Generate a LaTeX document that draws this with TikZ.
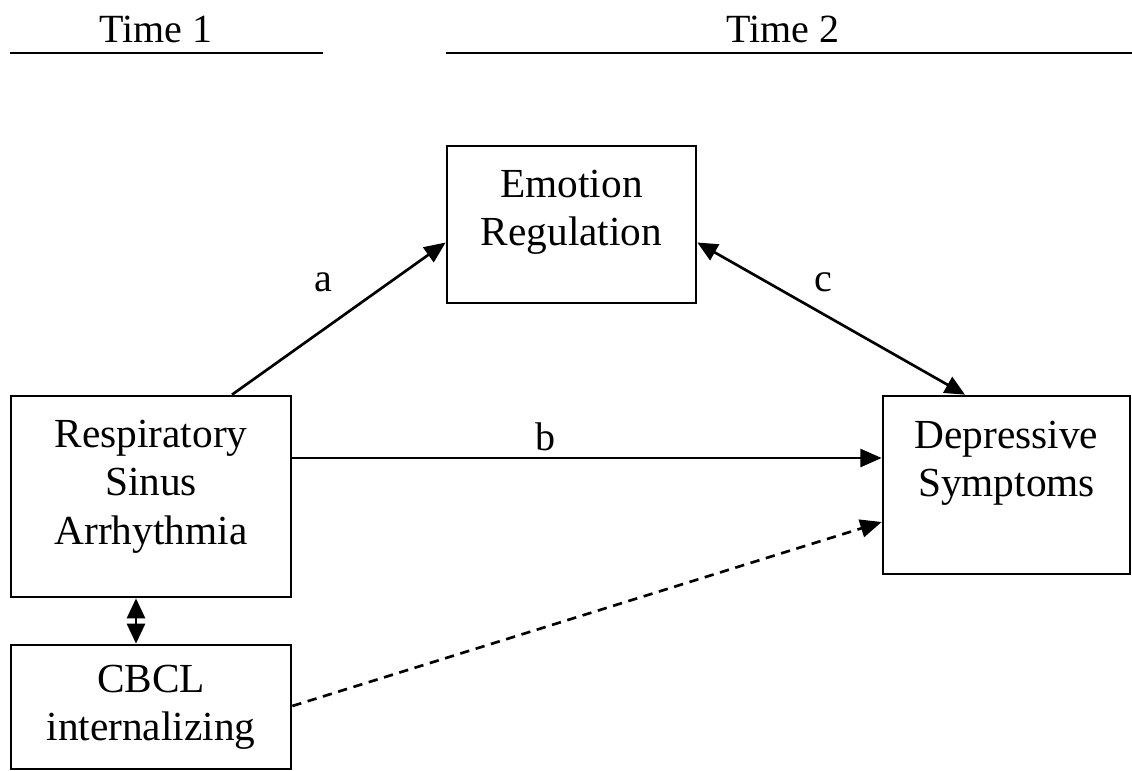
\documentclass[tikz,border=0pt]{standalone}
\usepackage{fontspec}
\setmainfont{Liberation Serif}
\usetikzlibrary{calc,arrows.meta}
\begin{document}
\begin{tikzpicture}[x=0.75pt,y=-0.75pt,
  box/.style={draw,line width=2pt,inner sep=0pt,minimum width=#1},
  txt/.style={font=\fontsize{31}{36.5}\selectfont,align=center,inner sep=0pt},
  lbl/.style={font=\fontsize{30}{36}\selectfont,inner sep=0pt},
  conn/.style={line width=2pt,-{Triangle[length=16pt,width=13.5pt]}},
  bconn/.style={line width=2pt,{Triangle[length=15pt,width=13.5pt]}-{Triangle[length=15pt,width=13.5pt]}},
  dash7/.style={dash pattern=on 7pt off 5pt}]
\useasboundingbox (0,0) rectangle (1132,771);
% time headers
\node[lbl,anchor=base] (t1) at (156,42) {Time 1};
\node[lbl,anchor=base] (t2) at (783,42) {Time 2};
\draw[line width=2pt] (10,53) -- (323,53);
\draw[line width=2pt] (446,53) -- (1132,53);
% boxes
\node[box=186.75pt,minimum height=117.75pt] (er) at (571.5,224.5) {};
\node[box=210pt,minimum height=150.75pt] (rsa) at (151,496.5) {};
\node[box=185.25pt,minimum height=133.5pt] (dep) at (1006.5,485) {};
\node[box=210pt,minimum height=93pt] (cbcl) at (151,707) {};
% texts
\node[txt,anchor=north] (ert) at ($(er.north)+(0,25)$) {Emotion\\Regulation};
\node[txt,anchor=north] (rsat) at ($(rsa.north)+(0,25)$) {Respiratory\\Sinus\\Arrhythmia};
\node[txt,anchor=north] (dept) at ($(dep.north)+(0,26)$) {Depressive\\Symptoms};
\node[txt,anchor=north] (cbclt) at ($(cbcl.north)+(0,21)$) {CBCL\\internalizing};
% connectors
\draw[conn] ($(rsa.north)+(81,0)$) -- ($(er.west)+(0,18)$);
\draw[bconn] ($(er.east)+(0,18)$) -- ($(dep.north)+(-41.5,0)$);
\draw[conn] ($(rsa.east)+(0,-38.5)$) -- ($(dep.west)+(0,-27)$);
\draw[conn,dash7] ($(cbcl.east)+(0,-1)$) -- ($(dep.west)+(0,37)$);
\draw[bconn,dash pattern=on 6pt off 4pt] ($(rsa.south)+(-15,0)$) -- ($(cbcl.north)+(-15,0)$);
% labels
\node[lbl] (la) at (323,282) {a};
\node[lbl] (lb) at (545,437) {b};
\node[lbl] (lc) at (823,282) {c};
\end{tikzpicture}
\end{document}
